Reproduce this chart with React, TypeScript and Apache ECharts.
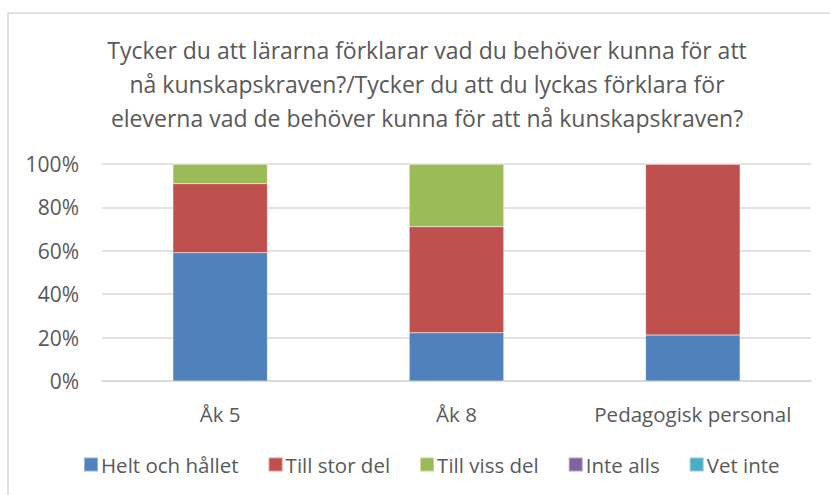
import React, { useEffect, useRef } from "react";
import * as echarts from "echarts";

const TITLE_LINES = [
  "Tycker du att lärarna förklarar vad du behöver kunna för att",
  "nå kunskapskraven?/Tycker du att du lyckas förklara för",
  "eleverna vad de behöver kunna för att nå kunskapskraven?",
];
const categories = ["Åk 5", "Åk 8", "Pedagogisk personal"];
const seriesNames = ["Helt och hållet", "Till stor del", "Till viss del", "Inte alls", "Vet inte"];
const seriesColors = ["#4f81bd", "#c0504d", "#9bbb59", "#8064a2", "#4bacc6"];
const heltOchHallet = [59.1, 22.2, 21.2];
const tillStorDel = [31.8, 48.9, 78.8];
const tillVissDel = [9.1, 28.9, 0];
const inteAlls = [0, 0, 0];
const vetInte = [0, 0, 0];
const seriesValues = [heltOchHallet, tillStorDel, tillVissDel, inteAlls, vetInte];
const yTicks = [0, 20, 40, 60, 80, 100];

const FONT = "'Open Sans', 'Liberation Sans', sans-serif";
const TEXT = "#595959";

export default function App() {
  const ref = useRef<HTMLDivElement>(null);
  useEffect(() => {
    if (!ref.current) return;
    const chart = echarts.init(ref.current, undefined, { renderer: "svg" });
    chart.setOption({
      animation: false,
      backgroundColor: "#ffffff",
      title: {
        text: TITLE_LINES.join("\n"),
        left: 422,
        top: 28,
        textAlign: "center",
        textStyle: {
          fontFamily: FONT,
          fontSize: 23,
          fontWeight: "normal",
          color: TEXT,
          lineHeight: 34,
        },
      },
      graphic: [
        {
          type: "rect",
          shape: { x: 8, y: 13, width: 900, height: 600 },
          style: { fill: "none", stroke: "#d9d9d9", lineWidth: 1.5 },
          silent: true,
          z: -10,
        },
      ],
      legend: {
        top: 449,
        left: 78,
        itemWidth: 14,
        itemHeight: 14,
        itemGap: 29,
        icon: "rect",
        data: seriesNames,
        textStyle: { fontFamily: FONT, fontSize: 20.5, color: TEXT, padding: [0, 0, 0, -2] },
      },
      grid: { left: 102, right: 19, top: 164, bottom: 114 },
      xAxis: {
        type: "category",
        data: categories,
        axisLine: { lineStyle: { color: "#d9d9d9", width: 1.5 } },
        axisTick: { show: false },
        axisLabel: { fontFamily: FONT, fontSize: 20.5, color: TEXT, margin: 22, interval: 0 },
      },
      yAxis: {
        type: "value",
        min: 0,
        max: 100,
        interval: 20,
        axisLine: { show: false },
        axisTick: { show: false },
        splitLine: { lineStyle: { color: "#d9d9d9", width: 1.5 } },
        axisLabel: {
          fontFamily: FONT,
          fontSize: 21,
          color: TEXT,
          margin: 23,
          formatter: (v: number) => (yTicks.includes(v) ? v + "%" : ""),
        },
      },
      series: seriesNames.map((name, i) => ({
        name,
        type: "bar",
        stack: "total",
        barWidth: "40%",
        data: seriesValues[i],
        itemStyle: { color: seriesColors[i], borderColor: "rgba(255,255,255,0.4)", borderWidth: 0.5 },
      })),
    });
    return () => chart.dispose();
  }, []);
  return (
    <div
      ref={ref}
      style={{ position: "absolute", left: 0, top: 0, width: 830, height: 495 }}
    />
  );
}
